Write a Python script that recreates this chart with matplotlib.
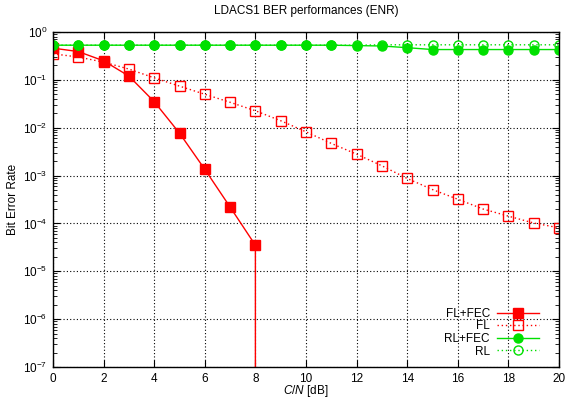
import matplotlib
matplotlib.use("Agg")
import matplotlib.pyplot as plt
from matplotlib.ticker import FixedLocator, MultipleLocator, NullFormatter, LogFormatterSciNotation
import numpy as np

plt.rcParams['font.family'] = ['Liberation Sans', 'DejaVu Sans']
plt.rcParams['mathtext.fontset'] = 'custom'
plt.rcParams['mathtext.rm'] = 'Liberation Sans'
plt.rcParams['mathtext.it'] = 'Liberation Sans:italic'

# C/N in dB
cn = list(range(0, 21))

# FL+FEC stops at 8 dB; the last 0 makes the line drop off the log axis
fl_fec_x = [0, 1, 2, 3, 4, 5, 6, 7, 8, 8]
fl_fec = [0.46, 0.39, 0.25, 0.12, 0.035, 0.0077, 0.00135, 2.2e-4, 3.5e-5, 0.0]

fl = [0.35, 0.30, 0.235, 0.168, 0.11, 0.074, 0.05, 0.034, 0.0226, 0.014,
      0.0082, 0.0047, 0.0028, 0.0016, 8.7e-4, 5.1e-4, 3.2e-4, 2.0e-4,
      1.42e-4, 1.02e-4, 8.1e-5]

rl_fec = [0.53, 0.53, 0.53, 0.53, 0.53, 0.53, 0.53, 0.53, 0.53, 0.53,
          0.53, 0.53, 0.52, 0.51, 0.47, 0.43, 0.43, 0.43, 0.43, 0.43, 0.43]

rl = [0.53, 0.53, 0.53, 0.53, 0.53, 0.53, 0.53, 0.53, 0.53, 0.53,
      0.53, 0.53, 0.53, 0.54, 0.54, 0.54, 0.54, 0.54, 0.54, 0.54, 0.54]

decades = [1e-7, 1e-6, 1e-5, 1e-4, 1e-3, 1e-2, 1e-1, 1e0]

RED = '#ff0000'
GREEN = '#00e000'

fig = plt.figure(figsize=(5.66, 4.03), dpi=100)
ax = fig.add_axes([53 / 566, 1 - 367 / 403, 506 / 566, 335 / 403])

ax.plot(fl_fec_x, fl_fec, color=RED, lw=1, marker='s', ms=6.5,
        markevery=list(range(len(fl_fec_x) - 1)), label='FL+FEC')
ax.plot(cn, fl, color=RED, lw=1, ls=(0, (1, 2)), marker='s', ms=6.5,
        mfc='none', mew=1, label='FL')
ax.plot(cn, rl_fec, color=GREEN, lw=1, marker='o', ms=6.5, label='RL+FEC')
ax.plot(cn, rl, color=GREEN, lw=1, ls=(0, (1, 2)), marker='o', ms=6.5,
        mfc='none', mew=1, label='RL')

ax.set_yscale('log', nonpositive='clip')
ax.set_xlim(0, 20)
ax.set_ylim(1e-7, 1)
ax.xaxis.set_major_locator(MultipleLocator(2))
ax.yaxis.set_major_locator(FixedLocator(decades))
ax.yaxis.set_major_formatter(LogFormatterSciNotation())
minors = [d * k for d in decades[:-1] for k in range(2, 10)]
ax.yaxis.set_minor_locator(FixedLocator(minors))
ax.yaxis.set_minor_formatter(NullFormatter())

ax.grid(True, which='major', color='black', ls=(0, (1, 2)), lw=0.8)
ax.tick_params(which='both', direction='in', top=True, right=True, labelsize=8.5)
ax.tick_params(which='major', length=5, pad=4)
ax.tick_params(which='minor', length=3)
for s in ax.spines.values():
    s.set_linewidth(1)

ax.set_title('LDACS1 BER performances (ENR)', fontsize=8.5, pad=13)
ax.set_xlabel('$C/N$ [dB]', fontsize=8.5, labelpad=-1)
ax.set_ylabel('Bit Error Rate', fontsize=8.5, labelpad=3)

ax.legend(loc='lower right', bbox_to_anchor=(0.98, 0.0), frameon=False,
          markerfirst=False, fontsize=8.5, handlelength=3.6, labelspacing=0.05,
          handletextpad=0.6, borderaxespad=0.4)

fig.savefig('out.png', dpi=100)
